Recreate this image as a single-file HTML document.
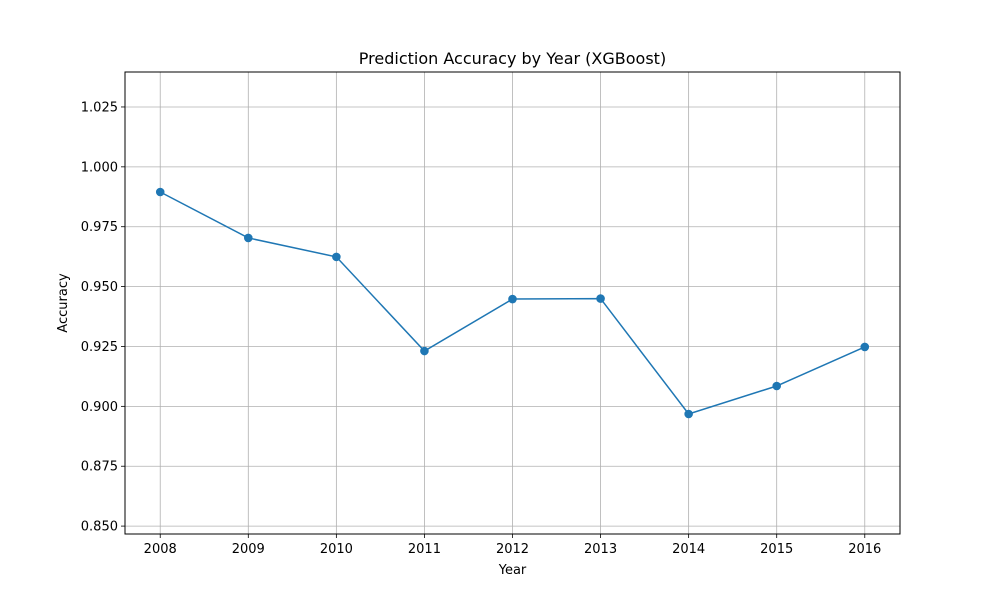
<!DOCTYPE html>
<html><head><meta charset="utf-8"><style>
body{margin:0;background:#fff;}
svg text{font-family:"DejaVu Sans","Liberation Sans",sans-serif;fill:#000;}
</style></head><body>
<svg id="chart" width="1000" height="600" xmlns="http://www.w3.org/2000/svg">
<rect width="1000" height="600" fill="#fff"/>
<g id="grid"></g>
<g id="series"></g>
<rect x="125" y="72" width="775" height="462" fill="none" stroke="#000" stroke-width="1"/>
<g id="ticks"></g>
<text x="512.5" y="64" font-size="16" text-anchor="middle">Prediction Accuracy by Year (XGBoost)</text>
<text x="512.5" y="574" font-size="13" text-anchor="middle">Year</text>
<text x="67" y="303" font-size="13" text-anchor="middle" transform="rotate(-90 67 303)">Accuracy</text>
</svg>
<script>
const years = [2008,2009,2010,2011,2012,2013,2014,2015,2016];
const accuracy = [0.9895,0.9703,0.9624,0.9231,0.9448,0.9450,0.8968,0.9085,0.9248];
const yTicks = [0.850,0.875,0.900,0.925,0.950,0.975,1.000,1.025];
const NS="http://www.w3.org/2000/svg";
const L=125,R=900,T=72,B=534;
const xMin=2007.6,xMax=2016.4,yMin=0.8467,yMax=1.0396;
const xs=v=>L+(v-xMin)/(xMax-xMin)*(R-L);
const ys=v=>B-(v-yMin)/(yMax-yMin)*(B-T);
function mk(tag,attrs,parent){const e=document.createElementNS(NS,tag);for(const k in attrs)e.setAttribute(k,attrs[k]);parent.appendChild(e);return e;}
const grid=document.getElementById('grid'),ticks=document.getElementById('ticks'),series=document.getElementById('series');
years.forEach(y=>{
  const x=xs(y);
  const g=mk('line',{x1:x,x2:x,y1:T,y2:B,stroke:'#b0b0b0','stroke-width':0.8},grid);
  
  
  const t=mk('line',{x1:x,x2:x,y1:B,y2:B+4,stroke:'#000','stroke-width':0.8},ticks);
  
  
  const lb=mk('text',{x:x,y:B+19,'font-size':13,'text-anchor':'middle'},ticks);
  lb.textContent=y;
  
  
});
yTicks.forEach(v=>{
  const y=ys(v);
  const g=mk('line',{x1:L,x2:R,y1:y,y2:y,stroke:'#b0b0b0','stroke-width':0.8},grid);
  
  
  const t=mk('line',{x1:L-4,x2:L,y1:y,y2:y,stroke:'#000','stroke-width':0.8},ticks);
  
  
  const lb=mk('text',{x:L-7,y:y+4.5,'font-size':13,'text-anchor':'end'},ticks);
  lb.textContent=v.toFixed(3);
  
  
});
const pts=years.map((y,i)=>xs(y)+','+ys(accuracy[i])).join(' ');
const pl=mk('polyline',{points:pts,fill:'none',stroke:'#1f77b4','stroke-width':1.5},series);


years.forEach((y,i)=>{
  const c=mk('circle',{cx:xs(y),cy:ys(accuracy[i]),r:4.3,fill:'#1f77b4'},series);
  
  
});
</script>
</body></html>
